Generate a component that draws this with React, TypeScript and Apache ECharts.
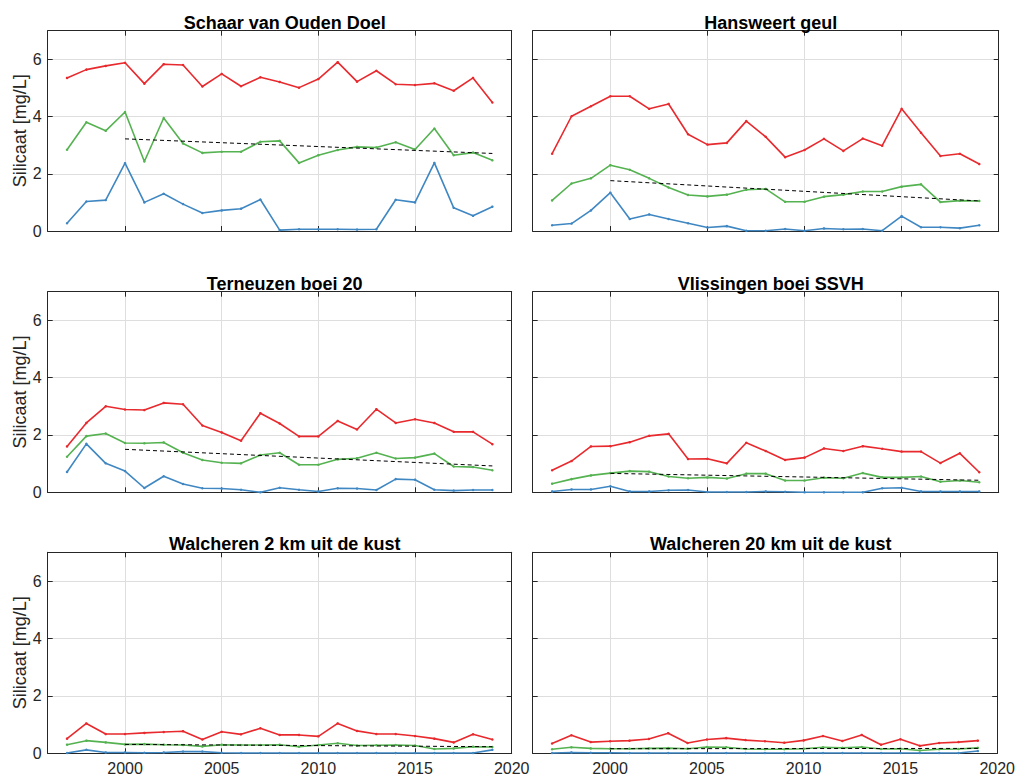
import React, { useEffect, useRef } from "react";
import * as echarts from "echarts";

const years = [1997, 1998, 1999, 2000, 2001, 2002, 2003, 2004, 2005, 2006, 2007, 2008, 2009, 2010, 2011, 2012, 2013, 2014, 2015, 2016, 2017, 2018, 2019];
const xTicks = [2000, 2005, 2010, 2015, 2020];
const yTicks = [0, 2, 4, 6];
const trendYears = [2000, 2019];

const stations = [
  "Schaar van Ouden Doel",
  "Hansweert geul",
  "Terneuzen boei 20",
  "Vlissingen boei SSVH",
  "Walcheren 2 km uit de kust",
  "Walcheren 20 km uit de kust",
];

// Schaar van Ouden Doel
const schaarMax = [5.35, 5.64, 5.77, 5.88, 5.15, 5.83, 5.8, 5.05, 5.49, 5.06, 5.37, 5.21, 5.01, 5.31, 5.9, 5.22, 5.6, 5.13, 5.1, 5.16, 4.9, 5.35, 4.49];
const schaarMean = [2.84, 3.8, 3.5, 4.16, 2.43, 3.95, 3.06, 2.73, 2.77, 2.77, 3.12, 3.15, 2.38, 2.65, 2.83, 2.94, 2.92, 3.1, 2.85, 3.58, 2.65, 2.74, 2.47];
const schaarMin = [0.27, 1.03, 1.08, 2.37, 1.0, 1.3, 0.94, 0.63, 0.72, 0.78, 1.1, 0.03, 0.06, 0.06, 0.06, 0.05, 0.06, 1.09, 1.0, 2.38, 0.81, 0.53, 0.85];
const schaarTrend = [3.22, 2.71];

// Hansweert geul
const hansMax = [2.7, 4.01, 4.36, 4.71, 4.71, 4.27, 4.44, 3.38, 3.02, 3.08, 3.84, 3.29, 2.58, 2.83, 3.22, 2.8, 3.23, 2.98, 4.27, 3.43, 2.62, 2.7, 2.34];
const hansMean = [1.07, 1.66, 1.84, 2.3, 2.14, 1.84, 1.52, 1.26, 1.21, 1.27, 1.44, 1.47, 1.02, 1.02, 1.2, 1.27, 1.38, 1.38, 1.55, 1.63, 1.01, 1.06, 1.05];
const hansMin = [0.2, 0.26, 0.72, 1.34, 0.42, 0.58, 0.42, 0.27, 0.12, 0.17, 0.01, 0.01, 0.07, 0.01, 0.09, 0.06, 0.07, 0.01, 0.52, 0.13, 0.13, 0.1, 0.2];
const hansTrend = [1.76, 1.05];

// Terneuzen boei 20
const ternMax = [1.6, 2.42, 3.0, 2.89, 2.87, 3.12, 3.07, 2.33, 2.09, 1.8, 2.76, 2.4, 1.95, 1.95, 2.49, 2.19, 2.9, 2.42, 2.55, 2.42, 2.11, 2.11, 1.68];
const ternMean = [1.24, 1.96, 2.05, 1.72, 1.71, 1.74, 1.38, 1.13, 1.03, 1.01, 1.3, 1.38, 0.96, 0.96, 1.15, 1.19, 1.38, 1.18, 1.21, 1.35, 0.9, 0.88, 0.77];
const ternMin = [0.71, 1.69, 1.01, 0.74, 0.15, 0.56, 0.29, 0.14, 0.13, 0.09, 0.0, 0.16, 0.09, 0.03, 0.14, 0.13, 0.08, 0.46, 0.44, 0.09, 0.06, 0.08, 0.08];
const ternTrend = [1.5, 0.92];

// Vlissingen boei SSVH
const vlisMax = [0.77, 1.09, 1.6, 1.61, 1.75, 1.97, 2.04, 1.16, 1.17, 1.01, 1.73, 1.44, 1.13, 1.21, 1.53, 1.44, 1.61, 1.52, 1.42, 1.42, 1.02, 1.36, 0.7];
const vlisMean = [0.3, 0.46, 0.59, 0.67, 0.74, 0.72, 0.55, 0.49, 0.52, 0.48, 0.65, 0.65, 0.41, 0.41, 0.51, 0.49, 0.67, 0.52, 0.52, 0.55, 0.37, 0.41, 0.35];
const vlisMin = [0.03, 0.1, 0.1, 0.21, 0.03, 0.03, 0.07, 0.08, 0.01, 0.01, 0.01, 0.03, 0.02, 0.0, 0.0, 0.0, 0.0, 0.14, 0.16, 0.03, 0.03, 0.03, 0.03];
const vlisTrend = [0.66, 0.42];

// Walcheren 2 km uit de kust
const wal2Max = [0.51, 1.04, 0.67, 0.67, 0.71, 0.74, 0.77, 0.48, 0.75, 0.66, 0.87, 0.64, 0.64, 0.59, 1.04, 0.78, 0.67, 0.67, 0.6, 0.51, 0.38, 0.66, 0.48];
const wal2Mean = [0.3, 0.44, 0.38, 0.31, 0.32, 0.3, 0.29, 0.24, 0.3, 0.29, 0.29, 0.3, 0.23, 0.29, 0.35, 0.27, 0.28, 0.29, 0.27, 0.15, 0.17, 0.23, 0.22];
const wal2Min = [0.01, 0.12, 0.03, 0.03, 0.02, 0.03, 0.06, 0.06, 0.02, 0.01, 0.01, 0.01, 0.01, 0.01, 0.01, 0.01, 0.01, 0.01, 0.01, 0.01, 0.01, 0.01, 0.12];
const wal2Trend = [0.31, 0.23];

// Walcheren 20 km uit de kust
const wal20Max = [0.34, 0.63, 0.39, 0.42, 0.44, 0.5, 0.7, 0.36, 0.48, 0.53, 0.46, 0.42, 0.37, 0.45, 0.6, 0.43, 0.64, 0.3, 0.49, 0.26, 0.36, 0.39, 0.44];
const wal20Mean = [0.14, 0.21, 0.17, 0.16, 0.16, 0.17, 0.18, 0.16, 0.22, 0.21, 0.15, 0.14, 0.14, 0.16, 0.21, 0.19, 0.22, 0.15, 0.16, 0.1, 0.14, 0.15, 0.19];
const wal20Min = [0.01, 0.03, 0.02, 0.02, 0.01, 0.01, 0.01, 0.01, 0.01, 0.01, 0.01, 0.01, 0.01, 0.01, 0.01, 0.01, 0.01, 0.01, 0.01, 0.01, 0.01, 0.01, 0.08];
const wal20Trend = [0.16, 0.17];

const panels = [
  { max: schaarMax, mean: schaarMean, min: schaarMin, trend: schaarTrend },
  { max: hansMax, mean: hansMean, min: hansMin, trend: hansTrend },
  { max: ternMax, mean: ternMean, min: ternMin, trend: ternTrend },
  { max: vlisMax, mean: vlisMean, min: vlisMin, trend: vlisTrend },
  { max: wal2Max, mean: wal2Mean, min: wal2Min, trend: wal2Trend },
  { max: wal20Max, mean: wal20Mean, min: wal20Min, trend: wal20Trend },
];

const FONT = "'Liberation Sans', Arial, Helvetica, sans-serif";
const AX = "#262626";
const GRIDC = "#dedede";
const RED = "#e8292d";
const GREEN = "#55b251";
const BLUE = "#3f87c2";

const colLeft = [47.7, 532.7];
const colWidth = [464, 466];
const rowTop = [30.7, 291.7, 552.3];
const rowHeight = [200.3, 200.6, 201];

function buildOption() {
  const grid: any[] = [];
  const xAxis: any[] = [];
  const yAxis: any[] = [];
  const series: any[] = [];
  const title: any[] = [];

  panels.forEach((p, i) => {
    const col = i % 2;
    const row = Math.floor(i / 2);
    grid.push({
      left: colLeft[col],
      top: rowTop[row],
      width: colWidth[col],
      height: rowHeight[row],
      containLabel: false,
    });
    title.push({
      text: stations[i],
      left: colLeft[col] + colWidth[col] / 2,
      top: rowTop[row] - 22,
      textAlign: "center",
      textStyle: { fontFamily: FONT, fontSize: 18, fontWeight: "bold", color: "#000" },
    });
    const commonX = {
      type: "value",
      gridIndex: i,
      min: 1996,
      max: 2020,
      axisLine: { show: true, onZero: false, lineStyle: { color: AX, width: 1 } },
    };
    xAxis.push({
      ...commonX,
      position: "bottom",
      axisTick: { show: true, inside: true, length: 5, customValues: xTicks, lineStyle: { color: AX } },
      axisLabel: {
        show: row === 2,
        customValues: xTicks,
        formatter: (v: number) => String(v),
        margin: 7,
        color: AX,
        fontFamily: FONT,
        fontSize: 16,
      },
      splitLine: { show: true, lineStyle: { color: GRIDC, width: 1 } },
    });
    xAxis.push({
      ...commonX,
      position: "top",
      axisTick: { show: true, inside: true, length: 5, customValues: xTicks, lineStyle: { color: AX } },
      axisLabel: { show: false },
      splitLine: { show: false },
    });
    const commonY = {
      type: "value",
      gridIndex: i,
      min: 0,
      max: 7,
      axisLine: { show: true, onZero: false, lineStyle: { color: AX, width: 1 } },
    };
    yAxis.push({
      ...commonY,
      position: "left",
      name: col === 0 ? "Silicaat [mg/L]" : "",
      nameLocation: "middle",
      nameGap: 18,
      nameTextStyle: { fontFamily: FONT, fontSize: 18, color: AX },
      axisTick: { show: true, inside: true, length: 5, customValues: yTicks, lineStyle: { color: AX } },
      axisLabel: {
        show: col === 0,
        customValues: yTicks,
        formatter: (v: number) => String(v),
        margin: 6,
        color: AX,
        fontFamily: FONT,
        fontSize: 16,
      },
      splitLine: { show: true, lineStyle: { color: GRIDC, width: 1 } },
    });
    yAxis.push({
      ...commonY,
      position: "right",
      axisTick: { show: true, inside: true, length: 5, customValues: yTicks, lineStyle: { color: AX } },
      axisLabel: { show: false },
      splitLine: { show: false },
    });

    const lineSeries = (name: string, arr: number[], color: string) => ({
      type: "line",
      name,
      xAxisIndex: 2 * i,
      yAxisIndex: 2 * i,
      data: years.map((y, k) => [y, arr[k]]),
      symbol: "circle",
      symbolSize: 2.5,
      showSymbol: true,
      itemStyle: { color },
      lineStyle: { color, width: 1.6 },
      z: 3,
    });
    series.push(lineSeries("maximum", p.max, RED));
    series.push(lineSeries("gemiddelde", p.mean, GREEN));
    series.push(lineSeries("minimum", p.min, BLUE));
    series.push({
      type: "line",
      name: "trend",
      xAxisIndex: 2 * i,
      yAxisIndex: 2 * i,
      data: trendYears.map((y, k) => [y, p.trend[k]]),
      showSymbol: false,
      symbol: "none",
      lineStyle: { color: "#000", width: 1, type: [4, 3] },
      z: 4,
    });
  });

  return {
    animation: false,
    backgroundColor: "#ffffff",
    title,
    grid,
    xAxis,
    yAxis,
    series,
  };
}

export default function App() {
  const ref = useRef<HTMLDivElement>(null);
  useEffect(() => {
    if (!ref.current) return;
    const chart = echarts.init(ref.current, undefined, { renderer: "svg" });
    chart.setOption(buildOption() as any);
    return () => chart.dispose();
  }, []);
  return (
    <div
      ref={ref}
      style={{ position: "fixed", left: 0, top: 0, width: 1018, height: 778, background: "#fff" }}
    />
  );
}
